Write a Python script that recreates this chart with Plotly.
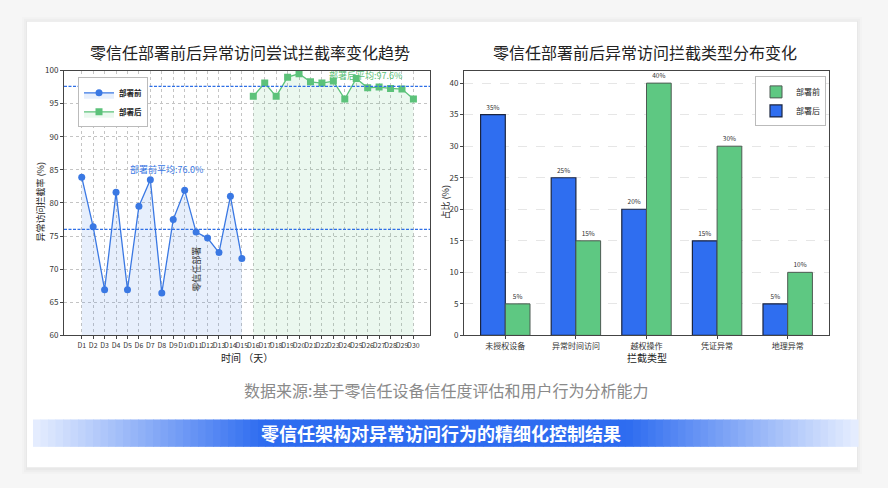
import plotly.graph_objects as go

W, H = 888, 488
FONT = "Noto Sans CJK SC, Liberation Sans, sans-serif"

# ---------------- data ----------------
days = ["D1", "D2", "D3", "D4", "D5", "D6", "D7", "D8", "D9", "D10",
        "D11", "D12", "D13", "D14", "D15", "D16", "D17", "D18", "D19", "D20",
        "D21", "D22", "D23", "D24", "D25", "D26", "D27", "D28", "D29", "D30"]
pre_days = days[:15]
post_days = days[15:]
pre_rate = [83.9, 76.4, 66.9, 81.6, 66.9, 79.5, 83.5, 66.4, 77.5, 81.9,
            75.6, 74.7, 72.5, 81.0, 71.6]
post_rate = [96.1, 98.1, 96.1, 99.0, 99.5, 98.3, 98.1, 98.4, 95.7, 98.8,
             97.4, 97.5, 97.3, 97.2, 95.7]
pre_mean = 76.0
post_mean = 97.6

types = ["未授权设备", "异常时间访问", "越权操作", "凭证异常", "地理异常"]
blue_vals = [35, 25, 20, 15, 5]     # legend label 部署后
green_vals = [5, 15, 40, 30, 10]    # legend label 部署前

BLUE_LINE = "#3a78e3"
GREEN_LINE = "#5cc27a"
BLUE_BAR = "#2f6ef0"
GREEN_BAR = "#5ec882"


def px(x):
    return x / W


def py(y):
    return 1 - y / H


fig = go.Figure()

# ---------- left chart ----------
fig.add_trace(go.Scatter(
    x=pre_days, y=pre_rate, name="<b>部署前</b>", mode="lines+markers",
    line=dict(color=BLUE_LINE, width=1.3),
    marker=dict(symbol="circle", size=7, color=BLUE_LINE),
    fill="tozeroy", fillcolor="rgba(58,120,227,0.12)",
    xaxis="x", yaxis="y", legend="legend"))
fig.add_trace(go.Scatter(
    x=post_days, y=post_rate, name="<b>部署后</b>", mode="lines+markers",
    line=dict(color=GREEN_LINE, width=1.3),
    marker=dict(symbol="square", size=7, color=GREEN_LINE),
    fill="tozeroy", fillcolor="rgba(92,194,122,0.12)",
    xaxis="x", yaxis="y", legend="legend"))

# ---------- right chart ----------
fig.add_trace(go.Bar(
    x=types, y=blue_vals, name="部署后", marker=dict(color=BLUE_BAR, line=dict(color="#1b2540", width=1.2)),
    text=[f"{v}%" for v in blue_vals], textposition="outside", cliponaxis=False,
    textfont=dict(size=6.5, color="#333"),
    xaxis="x2", yaxis="y2", legend="legend2", legendrank=2))
fig.add_trace(go.Bar(
    x=types, y=green_vals, name="部署前", marker=dict(color=GREEN_BAR, line=dict(color="#4d5a52", width=1.0)),
    text=[f"{v}%" for v in green_vals], textposition="outside", cliponaxis=False,
    textfont=dict(size=6.5, color="#333"),
    xaxis="x2", yaxis="y2", legend="legend2", legendrank=1))

axis_common = dict(showline=True, mirror=True, linecolor="#444", linewidth=1,
                   ticks="outside", ticklen=3, tickcolor="#444", zeroline=False)

shapes = []
# outer shadow and card
for i, a in enumerate([0.012, 0.018, 0.025]):
    d = 5 - i * 2
    shapes.append(dict(type="rect", xref="paper", yref="paper",
                       x0=px(27 - d), x1=px(857 + d), y0=py(472 + d + 2), y1=py(16 - d),
                       fillcolor=f"rgba(0,0,0,{a})", line=dict(width=0), layer="below"))
shapes.append(dict(type="rect", xref="paper", yref="paper",
                   x0=px(27), x1=px(857), y0=py(472), y1=py(16),
                   fillcolor="white", line=dict(width=0), layer="below"))

# banner gradient
bx0, bx1, by0, by1 = 33, 858, 423, 451
N = 110
light = (232, 239, 255)
dark = (46, 108, 240)
for i in range(N):
    t = (i + 0.5) / N
    k = min(1.0, min(t, 1 - t) / 0.28)
    c = tuple(int(light[j] + (dark[j] - light[j]) * k) for j in range(3))
    xa = bx0 + (bx1 - bx0) * i / N
    xb = bx0 + (bx1 - bx0) * (i + 1) / N + 0.6
    shapes.append(dict(type="rect", xref="paper", yref="paper",
                       x0=px(xa), x1=px(xb), y0=py(by1), y1=py(by0),
                       fillcolor=f"rgb{c}", line=dict(width=0), layer="below"))

# mean lines
shapes.append(dict(type="line", xref="x domain", yref="y", x0=0, x1=1, y0=pre_mean, y1=pre_mean,
                   line=dict(color="#2f6fe6", width=1.2, dash="3px,1.5px")))
shapes.append(dict(type="line", xref="x domain", yref="y", x0=0, x1=1, y0=post_mean, y1=post_mean,
                   line=dict(color="#2f6fe6", width=1.2, dash="3px,1.5px")))


def ann(text, x, y, size, color, xref="paper", yref="paper", angle=0):
    if xref == "paper":
        x = px(x)
    if yref == "paper":
        y = py(y)
    return dict(text=text, x=x, y=y, xref=xref, yref=yref, xanchor="center", yanchor="middle",
                textangle=angle, showarrow=False, font=dict(size=size, color=color, family=FONT))


annotations = [
    ann("零信任部署前后异常访问尝试拦截率变化趋势", 250, 47, 16, "#222"),
    ann("零信任部署前后异常访问拦截类型分布变化", 645, 47, 16, "#222"),
    ann("异常访问拦截率 (%)", 40, 201, 9, "#222", angle=-90),
    ann("时间 （天）", 247, 360, 10, "#222"),
    ann("占比 (%)", 445, 201, 9, "#222", angle=-90),
    ann("拦截类型", 647, 360, 10, "#222"),
    ann(f"部署前平均:{pre_mean:.1f}%", 7.4, 85.1, 9, BLUE_LINE, xref="x", yref="y"),
    ann(f"部署后平均:{post_mean:.1f}%", 24.8, 99.3, 9, GREEN_LINE, xref="x", yref="y"),
    ann("零信任部署", 10.05, 70, 9, "#333", xref="x", yref="y", angle=-90),
    ann("数据来源:基于零信任设备信任度评估和用户行为分析能力", 446, 393, 16, "#8a8a8a"),
    ann("<b>零信任架构对异常访问行为的精细化控制结果</b>", 441, 437, 18, "white"),
]

fig.update_layout(
    width=W, height=H, margin=dict(l=0, r=0, t=0, b=0),
    paper_bgcolor="#f6f6f6", plot_bgcolor="white",
    font=dict(family=FONT, color="#333"),
    barmode="group", bargap=0.3, bargroupgap=0,
    showlegend=True,
    xaxis=dict(domain=[px(64), px(430)], anchor="y", type="category",
               categoryorder="array", categoryarray=days,
               range=[-1.55, 30.45], tickmode="linear", dtick=1, tickangle=0,
               tickfont=dict(size=7, color="#333"),
               showgrid=True, gridcolor="#c4c4c4", griddash="dot", gridwidth=1, **axis_common),
    yaxis=dict(domain=[py(337), py(66)], anchor="x", range=[60, 100], dtick=5,
               tickfont=dict(size=8, color="#333"),
               showgrid=True, gridcolor="#c4c4c4", griddash="dot", gridwidth=1, **axis_common),
    xaxis2=dict(domain=[px(464), px(829)], anchor="y2", type="category",
                range=[-0.585, 4.585], tickangle=0,
                tickfont=dict(size=8, color="#333"), showgrid=False, **axis_common),
    yaxis2=dict(domain=[py(337), py(66)], anchor="x2", range=[0, 42], dtick=5,
                tickfont=dict(size=8, color="#333"),
                showgrid=True, gridcolor="#e6e6e6", griddash="dash", gridwidth=1, **axis_common),
    legend=dict(x=px(78), y=py(73), xanchor="left", yanchor="top",
                bgcolor="white", bordercolor="#bbb", borderwidth=1,
                font=dict(size=7.5, color="#222", family=FONT), itemwidth=30,
                tracegroupgap=0),
    legend2=dict(x=px(826), y=py(72), xanchor="right", yanchor="top",
                 bgcolor="white", bordercolor="#bbb", borderwidth=1,
                 font=dict(size=8, color="#222", family=FONT), itemwidth=30,
                 tracegroupgap=0),
    shapes=shapes, annotations=annotations,
)

fig.write_html("out.html", config={"displayModeBar": False},
               post_script="document.body.style.margin='0';document.body.style.overflow='hidden';")
